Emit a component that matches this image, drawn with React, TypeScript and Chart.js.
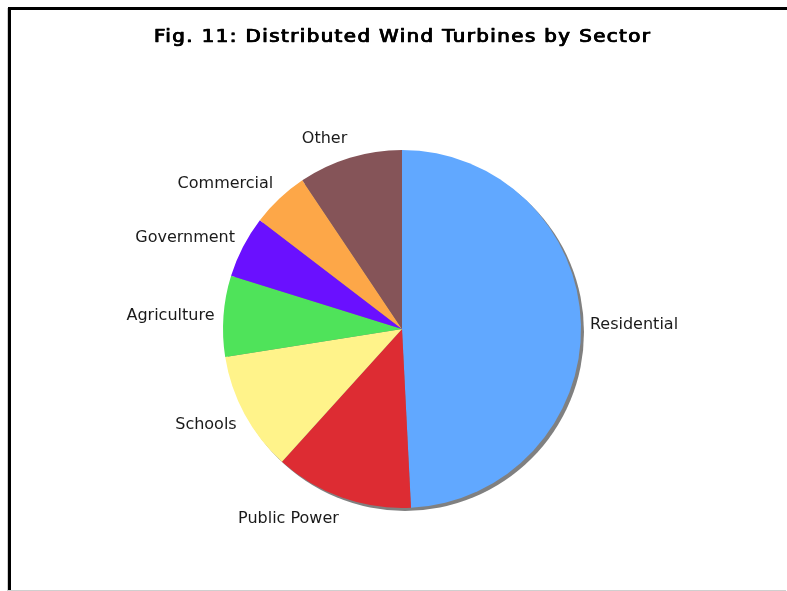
import React, { useEffect, useRef } from "react";
import { Chart, registerables } from "chart.js";

Chart.register(...registerables);

const TITLE = "Fig. 11: Distributed Wind Turbines by Sector";
const sectors = ["Residential", "Public Power", "Schools", "Agriculture", "Government", "Commercial", "Other"];
const shares = [49.2, 12.5, 10.8, 7.3, 5.6, 5.2, 9.4];
const colors = ["#61A8FF", "#DD2C33", "#FFF38A", "#4FE35A", "#6A10FF", "#FDA748", "#855458"];

const shadowPlugin = {
  id: "pieShadow",
  beforeDatasetsDraw(chart: any) {
    const meta = chart.getDatasetMeta(0);
    const arc = meta.data[0];
    if (!arc) return;
    const { x, y, outerRadius } = arc.getProps(["x", "y", "outerRadius"], true);
    const ctx = chart.ctx;
    ctx.save();
    ctx.fillStyle = "#808080";
    ctx.beginPath();
    ctx.arc(x + 3, y + 3, outerRadius, 0, Math.PI * 2);
    ctx.fill();
    ctx.restore();
  },
};

const titlePlugin = {
  id: "boldTitle",
  afterDraw(chart: any) {
    const ctx = chart.ctx;
    const area = chart.chartArea;
    const cx = (area.left + area.right) / 2;
    const targetWidth = 497;
    const sx = 1.1;
    ctx.save();
    ctx.font = "18px 'DejaVu Sans'";
    ctx.fillStyle = "#000";
    ctx.strokeStyle = "#000";
    ctx.lineWidth = 0.7;
    ctx.textBaseline = "middle";
    ctx.textAlign = "left";
    const base = ctx.measureText(TITLE).width * sx + 1;
    const n = TITLE.length;
    const spacing = (targetWidth - base) / sx / (n - 1);
    try {
      (ctx as any).letterSpacing = spacing + "px";
    } catch (e) {}
    const w = (ctx.measureText(TITLE).width - spacing) * sx + 1;
    const x0 = cx - w / 2;
    ctx.translate(x0, 37);
    ctx.scale(sx, 1);
    ctx.fillText(TITLE, 0, 0);
    ctx.fillText(TITLE, 0.9, 0);
    ctx.strokeText(TITLE, 0.45, 0);
    ctx.restore();
  },
};

const labelPlugin = {
  id: "outerLabels",
  afterDatasetsDraw(chart: any) {
    const meta = chart.getDatasetMeta(0);
    const ctx = chart.ctx;
    const labels = chart.data.labels as string[];
    ctx.save();
    ctx.font = "16px 'DejaVu Sans'";
    ctx.fillStyle = "#1a1a1a";
    ctx.textBaseline = "middle";
    meta.data.forEach((el: any, i: number) => {
      const { x, y, startAngle, endAngle, outerRadius } = el.getProps(
        ["x", "y", "startAngle", "endAngle", "outerRadius"],
        true
      );
      const mid = (startAngle + endAngle) / 2;
      const r = outerRadius + 9;
      const ax = x + Math.cos(mid) * r;
      const ay = y + Math.sin(mid) * r;
      ctx.textAlign = Math.cos(mid) >= 0 ? "left" : "right";
      ctx.fillText(labels[i], ax, ay + Math.sin(mid) * 12 + 1);
    });
    ctx.restore();
  },
};

export default function App() {
  const ref = useRef<HTMLCanvasElement | null>(null);
  useEffect(() => {
    if (!ref.current) return;
    const chart = new Chart(ref.current, {
      type: "pie",
      data: {
        labels: sectors,
        datasets: [
          {
            data: shares,
            backgroundColor: colors,
            borderWidth: 0,
          },
        ],
      },
      options: {
        responsive: false,
        maintainAspectRatio: false,
        animation: false,
        layout: { padding: { left: 223, right: 206, top: 150, bottom: 83 } },
        plugins: {
          legend: { display: false },
          tooltip: { enabled: false },
          title: { display: false },
        },
      },
      plugins: [shadowPlugin, labelPlugin, titlePlugin],
    });
    return () => chart.destroy();
  }, []);

  return (
    <div>
      <div
        style={{
          position: "fixed",
          left: 8,
          top: 7,
          width: 779,
          height: 583,
          boxSizing: "border-box",
          borderTop: "3px solid #000",
          borderLeft: "3px solid #000",
          boxShadow: "-1px 1px 0 #cfcfcf",
          background: "#fff",
        }}
      />
      <canvas
        ref={ref}
        width={787}
        height={591}
        style={{ position: "fixed", left: 0, top: 0, width: 787, height: 591 }}
      />
    </div>
  );
}
